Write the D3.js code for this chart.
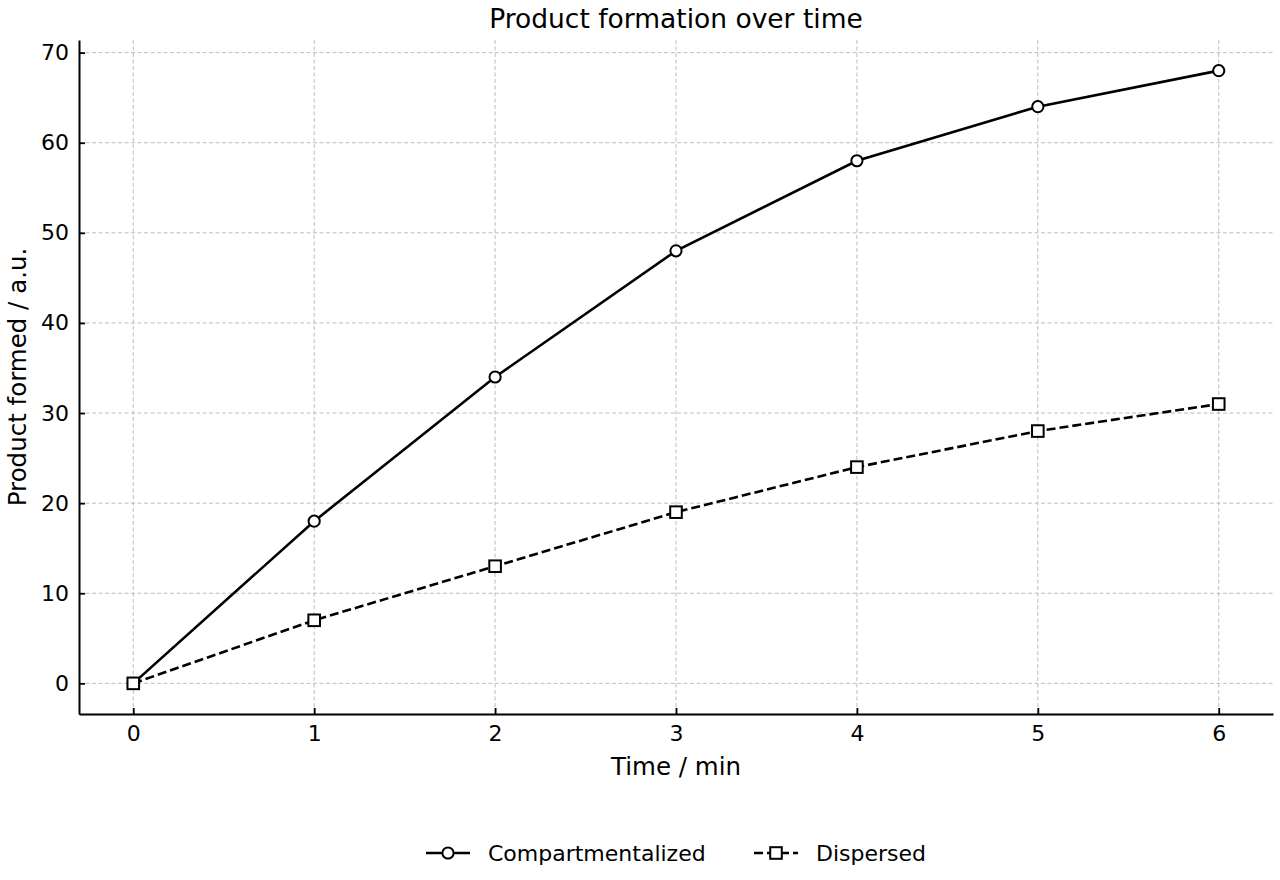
<!DOCTYPE html>
<html>
<head>
<meta charset="utf-8">
<script src="https://cdn.jsdelivr.net/npm/d3@7"></script>
<style>
  body { margin: 0; background: #fff; }
  svg { display: block; font-family: "DejaVu Sans", sans-serif; }
</style>
</head>
<body>
<svg id="chart" width="1280" height="880"></svg>
<script>
const times = [0, 1, 2, 3, 4, 5, 6];
const compartmentalized = [0, 18, 34, 48, 58, 64, 68];
const dispersed = [0, 7, 13, 19, 24, 28, 31];
const xTicks = [0, 1, 2, 3, 4, 5, 6];
const yTicks = [0, 10, 20, 30, 40, 50, 60, 70];

const width = 1280;
const height = 880;
const margin = { left: 79, right: 7, top: 40, bottom: 166 };
const svg = d3.select('#chart');

const x = d3.scaleLinear().domain([-0.3, 6.3]).range([margin.left, width - margin.right]);
const y = d3.scaleLinear().domain([-3.4, 71.4]).range([height - margin.bottom, margin.top]);

// grid
const grid = svg.append('g').attr('stroke', '#bdbdbd').attr('stroke-width', 1).attr('stroke-dasharray', '4,2.5');
grid.selectAll('line.gx').data(xTicks).join('line')
  .attr('x1', (d) => x(d)).attr('x2', (d) => x(d))
  .attr('y1', margin.top).attr('y2', height - margin.bottom);
grid.selectAll('line.gy').data(yTicks).join('line')
  .attr('y1', (d) => y(d)).attr('y2', (d) => y(d))
  .attr('x1', margin.left).attr('x2', width - margin.right);

// axes, ticks pointing inward
const xAxis = svg.append('g')
  .attr('transform', `translate(0,${height - margin.bottom})`)
  .call(d3.axisBottom(x).tickValues(xTicks).tickFormat(d3.format('d')).tickSizeInner(-6).tickSizeOuter(0).tickPadding(11));
const yAxis = svg.append('g')
  .attr('transform', `translate(${margin.left},0)`)
  .call(d3.axisLeft(y).tickValues(yTicks).tickFormat(d3.format('d')).tickSizeInner(-6).tickSizeOuter(0).tickPadding(10));
[xAxis, yAxis].forEach((g) => {
  g.attr('font-size', 22).attr('font-family', '"DejaVu Sans", sans-serif');
  g.select('.domain').attr('stroke', '#000').attr('stroke-width', 2);
  g.selectAll('.tick line').attr('stroke', '#000').attr('stroke-width', 1.8);
  g.selectAll('.tick text').attr('fill', '#000');
});

// lines
const line = d3.line().x((d, i) => x(times[i])).y((d) => y(d));
svg.append('path').datum(compartmentalized)
  .attr('d', line).attr('fill', 'none').attr('stroke', '#000').attr('stroke-width', 2.6);
svg.append('path').datum(dispersed)
  .attr('d', line).attr('fill', 'none').attr('stroke', '#000').attr('stroke-width', 2.6)
  .attr('stroke-dasharray', '9,4');

svg.append('g').selectAll('circle').data(compartmentalized).join('circle')
  .attr('cx', (d, i) => x(times[i])).attr('cy', (d) => y(d)).attr('r', 5.6)
  .attr('fill', '#fff').attr('stroke', '#000').attr('stroke-width', 2);
svg.append('g').selectAll('rect').data(dispersed).join('rect')
  .attr('x', (d, i) => x(times[i]) - 5.8).attr('y', (d) => y(d) - 5.8)
  .attr('width', 11.6).attr('height', 11.6)
  .attr('fill', '#fff').attr('stroke', '#000').attr('stroke-width', 2);

// title and labels
svg.append('text').attr('x', (margin.left + width - margin.right) / 2).attr('y', 28)
  .attr('text-anchor', 'middle').attr('font-size', 26.5).text('Product formation over time');
svg.append('text').attr('x', (margin.left + width - margin.right) / 2).attr('y', 775)
  .attr('text-anchor', 'middle').attr('font-size', 24.5).text('Time / min');
svg.append('text').attr('transform', `translate(26,${(margin.top + height - margin.bottom) / 2}) rotate(-90)`)
  .attr('text-anchor', 'middle').attr('font-size', 24.5).text('Product formed / a.u.');

// legend
const legendItems = [
  { label: 'Compartmentalized', x0: 426, dash: null, marker: 'circle' },
  { label: 'Dispersed', x0: 754, dash: '9,4', marker: 'square' }
];
const legendY = 853;
legendItems.forEach((item) => {
  const g = svg.append('g');
  g.append('line').attr('x1', item.x0).attr('x2', item.x0 + 44).attr('y1', legendY).attr('y2', legendY)
    .attr('stroke', '#000').attr('stroke-width', 2.6).attr('stroke-dasharray', item.dash);
  if (item.marker === 'circle') {
    g.append('circle').attr('cx', item.x0 + 22).attr('cy', legendY).attr('r', 5.6)
      .attr('fill', '#fff').attr('stroke', '#000').attr('stroke-width', 2);
  } else {
    g.append('rect').attr('x', item.x0 + 22 - 5.8).attr('y', legendY - 5.8).attr('width', 11.6).attr('height', 11.6)
      .attr('fill', '#fff').attr('stroke', '#000').attr('stroke-width', 2);
  }
  g.append('text').attr('x', item.x0 + 62).attr('y', legendY + 8).attr('font-size', 22).text(item.label);
});
</script>
</body>
</html>
